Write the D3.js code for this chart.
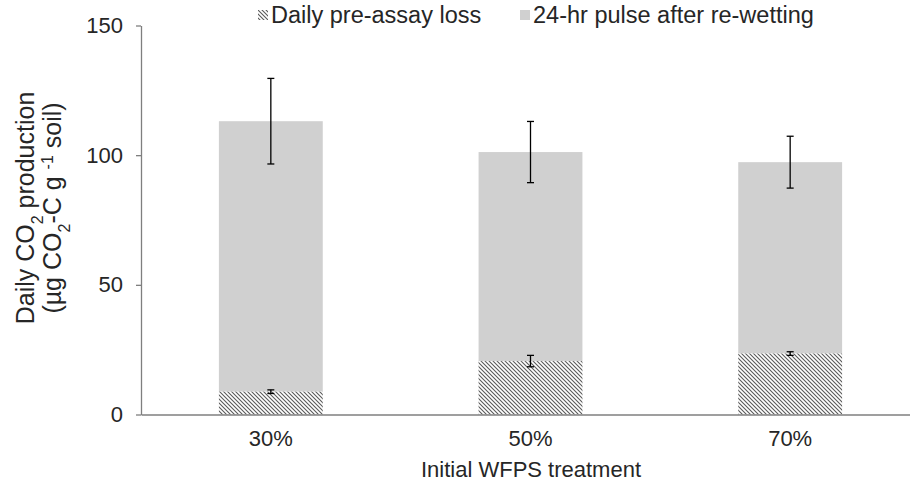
<!DOCTYPE html>
<html><head><meta charset="utf-8">
<script src="https://cdn.jsdelivr.net/npm/d3@7"></script>
<style>
html,body{margin:0;padding:0;background:#fff;}
text{font-family:Arial,"Liberation Sans",sans-serif;fill:#262626;}
</style></head>
<body>
<svg id="chart" width="910" height="487"></svg>
<script>
const categories = ["30%", "50%", "70%"];
const preAssayLoss = [8.8, 20.6, 23.5];
const preAssayErr = [0.7, 2.2, 0.7];
const pulseAfterRewetting = [104.3, 80.6, 73.8];
const totalErr = [16.5, 11.8, 10.0];
const yTicks = [0, 50, 100, 150];
const seriesNames = ["Daily pre-assay loss", "24-hr pulse after re-wetting"];

const svg = d3.select("#chart");
const defs = svg.append("defs");
const pat = defs.append("pattern").attr("id", "hatch").attr("patternUnits", "userSpaceOnUse")
  .attr("width", 4).attr("height", 4);
pat.append("rect").attr("width", 4).attr("height", 4).attr("fill", "#ffffff");
pat.append("path").attr("d", "M-1,-1 L5,5 M3,-1 L5,1 M-1,3 L1,5")
  .attr("stroke", "#5a5a5a").attr("stroke-width", 1.1);

const x0 = 141, x1 = 920, yBottom = 414.5, yTop = 25.5;
const x = d3.scaleBand().domain(categories).range([x0, x1]).paddingInner(0.6).paddingOuter(0.3);
const y = d3.scaleLinear().domain([0, 150]).range([yBottom, yTop]);

const data = categories.map((c, i) => ({
  cat: c, pre: preAssayLoss[i], preErr: preAssayErr[i],
  pulse: pulseAfterRewetting[i], total: preAssayLoss[i] + pulseAfterRewetting[i], totErr: totalErr[i]
}));

const gray = "#d0d0d0";
svg.selectAll(".pulse").data(data).enter().append("rect")
  .attr("x", d => x(d.cat)).attr("width", x.bandwidth())
  .attr("y", d => y(d.total)).attr("height", d => y(d.pre) - y(d.total))
  .attr("fill", gray);
svg.selectAll(".pre").data(data).enter().append("rect")
  .attr("x", d => x(d.cat)).attr("width", x.bandwidth())
  .attr("y", d => y(d.pre)).attr("height", d => y(0) - y(d.pre))
  .attr("fill", "url(#hatch)");

function errBars(cls, vFn, eFn) {
  const g = svg.selectAll("." + cls).data(data).enter().append("g");
  g.append("line").attr("x1", d => x(d.cat) + x.bandwidth() / 2).attr("x2", d => x(d.cat) + x.bandwidth() / 2)
    .attr("y1", d => y(vFn(d) - eFn(d))).attr("y2", d => y(vFn(d) + eFn(d)))
    .attr("stroke", "#000").attr("stroke-width", 1.3);
  [1, -1].forEach(s => {
    g.append("line").attr("x1", d => x(d.cat) + x.bandwidth() / 2 - 3.5).attr("x2", d => x(d.cat) + x.bandwidth() / 2 + 3.5)
      .attr("y1", d => y(vFn(d) + s * eFn(d))).attr("y2", d => y(vFn(d) + s * eFn(d)))
      .attr("stroke", "#000").attr("stroke-width", 1.3);
  });
}
errBars("e1", d => d.pre, d => d.preErr);
errBars("e2", d => d.total, d => d.totErr);

const yAxis = svg.append("g").attr("transform", `translate(${x0},0)`)
  .call(d3.axisLeft(y).tickValues(yTicks).tickSize(5).tickPadding(13).tickSizeOuter(0));
yAxis.select(".domain").attr("stroke", "#7f7f7f").attr("stroke-width", 1.3);
yAxis.selectAll(".tick line").attr("stroke", "#7f7f7f").attr("stroke-width", 1.3);
yAxis.selectAll("text").style("font-size", "22px").style("font-family", "Arial, 'Liberation Sans', sans-serif").attr("fill", "#262626");

const xAxis = svg.append("g").attr("transform", `translate(0,${yBottom})`)
  .call(d3.axisBottom(x).tickSize(0).tickPadding(16).tickSizeOuter(0));
xAxis.select(".domain").attr("stroke", "#7f7f7f").attr("stroke-width", 1.3);
xAxis.selectAll("text").style("font-size", "22px").style("font-family", "Arial, 'Liberation Sans', sans-serif").attr("fill", "#262626");

svg.append("text").attr("x", 531).attr("y", 477).attr("text-anchor", "middle")
  .style("font-size", "22px").text("Initial WFPS treatment");

const yt = svg.append("text").attr("transform", "translate(34,208) rotate(-90)").attr("text-anchor", "middle")
  .style("font-size", "25px");
yt.append("tspan").text("Daily CO");
yt.append("tspan").attr("baseline-shift", "sub").style("font-size", "16px").text("2");
yt.append("tspan").text(" production");
const yt2 = svg.append("text").attr("transform", "translate(61,208) rotate(-90)").attr("text-anchor", "middle")
  .style("font-size", "25px");
yt2.append("tspan").text("(µg CO");
yt2.append("tspan").attr("baseline-shift", "sub").style("font-size", "16px").text("2");
yt2.append("tspan").text("-C g ");
yt2.append("tspan").attr("baseline-shift", "super").style("font-size", "16px").text("-1");
yt2.append("tspan").text(" soil)");

const leg = [
  {name: seriesNames[0], fill: "url(#hatch)", sx: 258},
  {name: seriesNames[1], fill: gray, sx: 520}
];
leg.forEach(l => {
  svg.append("rect").attr("x", l.sx).attr("y", 10).attr("width", 10).attr("height", 10).attr("fill", l.fill);
  svg.append("text").attr("x", l.sx + 13).attr("y", 23).style("font-size", "23.5px").text(l.name);
});
</script>
</body></html>
